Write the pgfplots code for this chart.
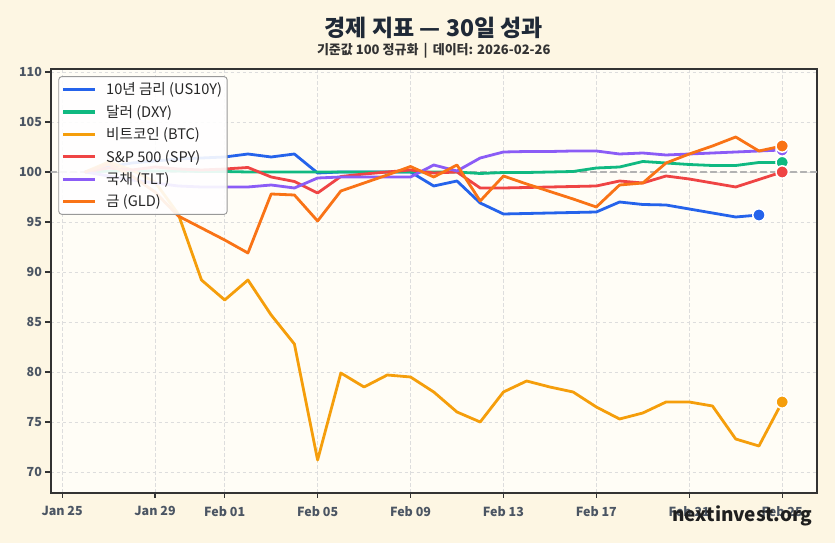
\documentclass[border=0pt]{standalone}
\usepackage{fontspec}
\setmainfont{Noto Sans CJK KR}
\usepackage{pgfplots}
\usepackage{pgfplotstable}
\pgfplotsset{compat=1.18}

\definecolor{pagebg}{HTML}{FDF6E3}
\definecolor{plotbg}{HTML}{FFFDF6}
\definecolor{cUS}{HTML}{2563EB}
\definecolor{cDXY}{HTML}{10B981}
\definecolor{cBTC}{HTML}{F59E0B}
\definecolor{cSPY}{HTML}{EF4444}
\definecolor{cTLT}{HTML}{8B5CF6}
\definecolor{cGLD}{HTML}{F97316}
\definecolor{ticktext}{HTML}{4B5563}
\definecolor{framec}{HTML}{333333}
\definecolor{gridc}{HTML}{DDDDDD}
\definecolor{titlec}{HTML}{1F2937}
\definecolor{legendborder}{HTML}{999999}

% day index: 0 = Jan 25
\pgfplotstableread{
d   us     dxy     btc    spy     tlt     gld
1   100.0  100.0   100.0  100.0   100.0   100.0
2   100.5  100.1   101.0  100.4   99.6    100.8
3   100.9  100.15  100.2  100.2   99.2    99.6
4   101.1  100.1   99.0   100.5   98.9    98.0
5   101.3  100.1   95.8   100.3   98.6    95.6
6   101.4  100.05  89.2   100.2   98.5    94.4
7   101.5  100.05  87.2   100.3   98.5    93.2
8   101.8  100.0   89.2   100.45  98.5    91.9
9   101.5  100.0   85.7   99.5    98.7    97.8
10  101.8  100.0   82.8   99.05   98.4    97.7
11  99.9   100.0   71.2   97.9    99.4    95.1
12  100.0  100.0   79.9   99.55   99.5    98.1
13  100.0  100.0   78.5   99.8    99.5    98.9
14  100.0  100.0   79.7   100.0   99.5    99.7
15  100.0  100.0   79.5   100.2   99.5    100.55
16  98.6   100.0   78.0   99.9    100.7   99.5
17  99.1   100.0   76.0   100.0   100.1   100.7
18  96.9   99.85   75.0   98.4    101.4   97.1
19  95.8   99.95   78.0   98.4    102.0   99.6
20  95.85  99.95   79.1   98.45   102.05  98.8
21  95.9   100.0   78.5   98.5    102.05  98.05
22  95.95  100.05  78.0   98.55   102.1   97.3
23  96.0   100.4   76.5   98.6    102.1   96.5
24  97.0   100.5   75.3   99.1    101.8   98.7
25  96.75  101.05  75.9   98.9    101.9   98.9
26  96.7   100.9   77.0   99.6    101.7   100.9
27  96.3   100.75  77.0   99.3    101.8   101.8
28  95.9   100.65  76.6   98.9    101.9   102.6
29  95.5   100.65  73.3   98.5    102.0   103.5
30  95.7   100.95  72.6   99.25   102.1   102.1
31  nan    100.95  77.0   100.0   102.2   102.6
}\data

\begin{document}
\begin{tikzpicture}
\fill[pagebg] (0pt,0pt) rectangle (835pt,543pt);

\begin{axis}[
  at={(50.5pt,50pt)}, anchor=south west,
  scale only axis, width=766.5pt, height=424pt,
  xmin=-0.5, xmax=32.5, ymin=67.9, ymax=110.3,
  axis background/.style={fill=plotbg},
  axis line style={framec, line width=2pt},
  tick style={framec, line width=1.1pt},
  major tick length=5pt, tick align=outside,
  xtick pos=bottom, ytick pos=left,
  xtick={0,4,7,11,15,19,23,27,31},
  xticklabels={Jan 25,Jan 29,Feb 01,Feb 05,Feb 09,Feb 13,Feb 17,Feb 21,Feb 25},
  ytick={70,75,...,110},
  /pgf/number format/assume math mode=true,
  tick label style={font=\bfseries\fontsize{12.5}{14}\selectfont, text=ticktext},
  xticklabel style={yshift=-4.5pt},
  grid=major,
  major grid style={gridc, dash pattern=on 3.5pt off 2.5pt, line width=0.8pt},
  every axis plot/.append style={line width=2.8pt, line join=round, line cap=round},
  legend cell align=left,
  legend image code/.code={\draw[#1, line width=3.4pt, line cap=butt] (0pt,0pt) -- (32pt,0pt);},
  legend style={at={(0.0102,0.983)}, anchor=north west,
    draw=legendborder, line width=0.9pt, fill=white, fill opacity=0.9, text opacity=1,
    rounded corners=3pt, font=\fontsize{14.6}{17}\selectfont, text=black!85,
    inner xsep=3pt, inner ysep=4pt, row sep=4.9pt,
    /tikz/every odd column/.append style={column sep=7pt}},
]
% baseline reference at 100
\addplot[forget plot, line width=1.2pt, color=black!30, dash pattern=on 6pt off 4pt]
  coordinates {(-0.5,100) (32.5,100)};

\addplot[cUS]  table[x=d, y=us]  {\data}; \addlegendentry{10년 금리 (US10Y)}
\addplot[cDXY] table[x=d, y=dxy] {\data}; \addlegendentry{달러 (DXY)}
\addplot[cBTC] table[x=d, y=btc] {\data}; \addlegendentry{비트코인 (BTC)}
\addplot[cSPY] table[x=d, y=spy] {\data}; \addlegendentry{S\&P 500 (SPY)}
\addplot[cTLT] table[x=d, y=tlt] {\data}; \addlegendentry{국채 (TLT)}
\addplot[cGLD] table[x=d, y=gld] {\data}; \addlegendentry{금 (GLD)}

% end-point markers
\pgfplotsset{endmark/.style={forget plot, only marks, mark=*, mark size=6.2pt,
  line width=1.5pt, draw=white, fill=#1}}
\addplot[endmark=cUS]  coordinates {(30,95.7)};
\addplot[endmark=cDXY] coordinates {(31,100.95)};
\addplot[endmark=cBTC] coordinates {(31,77.0)};
\addplot[endmark=cSPY] coordinates {(31,100.0)};
\addplot[endmark=cTLT] coordinates {(31,102.2)};
\addplot[endmark=cGLD] coordinates {(31,102.6)};
\end{axis}

\node[font=\bfseries\fontsize{23}{27}\selectfont, text=titlec] at (433.75pt,515pt)
  {경제 지표 — 30일 성과};
\node[font=\bfseries\fontsize{13}{15}\selectfont, text=black!80] at (433.75pt,492pt)
  {기준값 100 정규화 \,|\, 데이터: 2026-02-26};
\node[anchor=east, font=\bfseries\fontsize{19}{23}\selectfont, text=black!88]
  at (816pt,27pt) {nextinvest.org};

\pgfresetboundingbox
\useasboundingbox (0pt,0pt) rectangle (835pt,543pt);
\end{tikzpicture}
\end{document}
